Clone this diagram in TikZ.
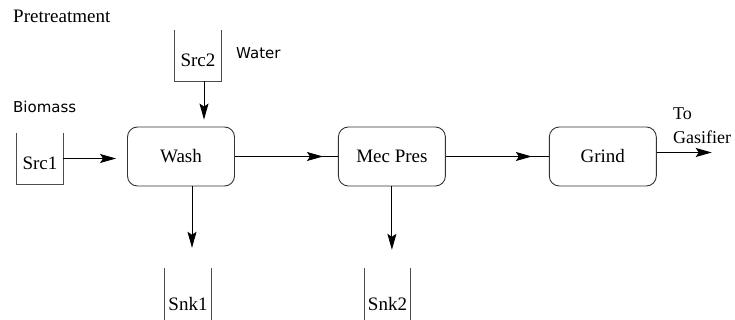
\documentclass[tikz,border=0pt]{standalone}
\usepackage{fontspec}
\setmainfont{Liberation Serif}
\newfontfamily\labelfont{DejaVu Sans}
\usetikzlibrary{positioning, arrows.meta}

\begin{document}
\begin{tikzpicture}[x=1pt, y=-1pt, node distance=103pt,
	every node/.style={font=\fontsize{19}{24}\selectfont, inner sep=0pt},
	process/.style={draw=black!80, rounded corners=10pt, minimum width=107pt, minimum height=59pt, line width=0.9pt},
	tank/.style={minimum width=46pt, text height=37pt, text depth=14pt},
	sink/.style={minimum width=46pt, text height=42pt, text depth=14pt},
	tag/.style={font=\labelfont\fontsize{15}{18}\selectfont, anchor=base west},
	flow/.style={-{Stealth[length=16pt, width=9pt, inset=3pt]}, line width=0.9pt}]
		\useasboundingbox (0,0) rectangle (735,320);
		\clip (0,0) rectangle (735,320);
		
		\node[process] (wash) at (181,156.5) {Wash};
		\node[process] (mec) [right=of wash] {Mec Pres};
		\node[process] (grind) [right=of mec] {Grind};
		
		\node[tank] (src1) at (40,158.5) {Src1};
		\node[tank] (src2) at (198,55.5) {Src2};
		\node[sink] (snk1) at (188,296) {Snk1};
		\node[sink] (snk2) at (387.5,296) {Snk2};
		\foreach \t in {src1, src2, snk1, snk2}
			\draw[black!70, line width=0.9pt] (\t.north west) |- (\t.south east) -- (\t.north east);
		
		\node[anchor=base west] (title) at (13,23) {Pretreatment};
		\node[tag] (biomass) at (13,113) {Biomass};
		\node[tag] (water) at (236,59) {Water};
		\node[anchor=north west, align=left, font=\fontsize{18}{24}\selectfont] (dest) at (673,108) {To\\Gasifier};
		\coordinate[right=55pt of grind.east, yshift=4pt] (out);
		
		\draw[flow, shorten >=11pt] (src1.east) -- (src1.east -| wash.west);
		\draw[flow, shorten >=7pt] ([xshift=6pt]src2.south) -- ([xshift=6pt]src2.south |- wash.north);
		\draw[flow, shorten >=20pt] ([xshift=4pt]snk1.north |- wash.south) -- ([xshift=4pt]snk1.north);
		\draw[flow, shorten >=18pt] (mec.south) -- (mec.south |- snk2.north);
		\draw[line width=0.9pt] (wash) -- (mec);
		\draw[flow, shorten >=15pt] (wash) -- (mec);
		\draw[line width=0.9pt] (mec) -- (grind);
		\draw[flow, shorten >=17pt] (mec) -- (grind);
		\draw[flow] ([yshift=4pt]grind.east) -- (out);
	\end{tikzpicture}
\end{document}
